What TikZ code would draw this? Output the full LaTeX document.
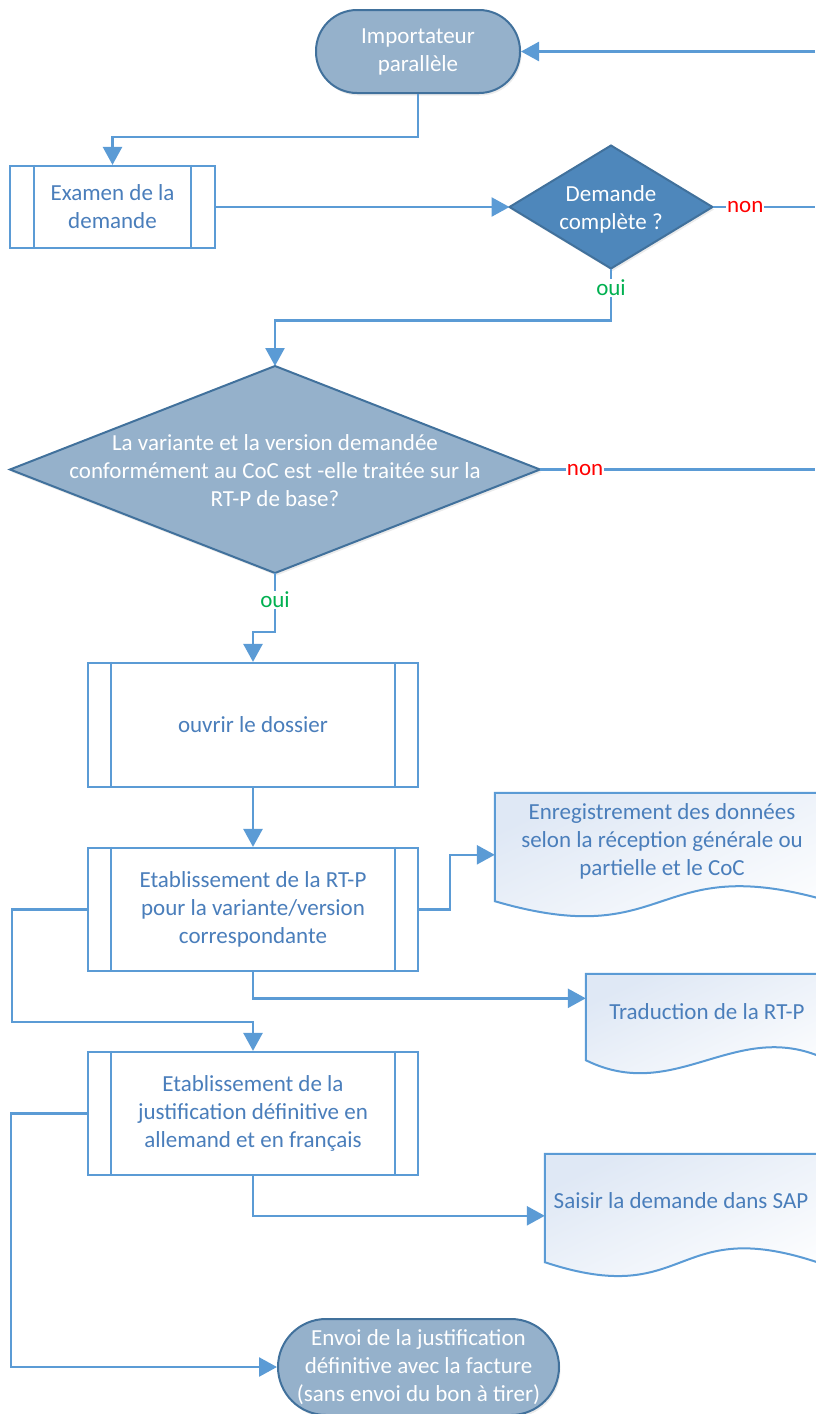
\documentclass[tikz,border=0pt]{standalone}
\usepackage{fontspec}
\setmainfont{Carlito}
\usetikzlibrary{shapes.geometric,arrows.meta,calc,shadows}
\definecolor{lineblue}{HTML}{5B9BD5}
\definecolor{termborder}{HTML}{41719C}
\definecolor{termfill}{HTML}{95B1CB}
\definecolor{decfill}{HTML}{4E87BB}
\definecolor{boxtext}{HTML}{4A7EBB}
\definecolor{docfill}{HTML}{DFE8F5}
\definecolor{nonred}{HTML}{FF0000}
\definecolor{ouigreen}{HTML}{00B050}
\pgfdeclarelayer{background}
\pgfsetlayers{background,main}
\newcommand\sublines[2]{%
  \draw[boxline] ($(#1.north west)+(#2,0)$) -- ($(#1.south west)+(#2,0)$)
                 ($(#1.north east)+(-#2,0)$) -- ($(#1.south east)+(-#2,0)$);}
\newcommand\zerotext[2]{\makebox[0pt]{\raisebox{#1}[0pt][0pt]{\begin{tabular}{@{}c@{}}#2\end{tabular}}}}
\begin{document}
\begin{tikzpicture}[x=1pt,y=-1pt,
  font=\fontsize{23}{28}\selectfont,
  conn/.style={draw=lineblue, line width=2.6pt},
  arr/.style={conn, -{Triangle[length=18pt,width=19pt]}},
  softshadow/.style={drop shadow={opacity=0.16, shadow xshift=1.5pt, shadow yshift=-2.5pt}},
  term/.style={rectangle, rounded corners=#1, draw=termborder, line width=2pt, fill=termfill,
    text=white, align=center, inner sep=0pt, softshadow},
  procbox/.style={rectangle, draw=lineblue, line width=2.2pt, fill=white, text=boxtext,
    align=center, inner sep=0pt},
  boxline/.style={draw=lineblue, line width=2.2pt},
  decision/.style={diamond, draw=termborder, line width=2pt, inner sep=0pt, outer sep=0pt, text=white, softshadow},
  docbox/.style={rectangle, text=boxtext, align=center, inner sep=0pt},
  docshape/.style={draw=lineblue, line width=2pt, top color=docfill, bottom color=white, shading angle=25},
  yes/.style={text=ouigreen, fill=white, inner sep=1pt},
  no/.style={text=nonred, fill=white, inner sep=1pt}]
\useasboundingbox (0,0) rectangle (815,1414);
\clip (0,0) rectangle (815,1414);

% nodes
\node[term=41pt, minimum width=204pt, minimum height=83pt] (t1) at (418,51.5) {Importateur\\parallèle};
\node[procbox, minimum width=205pt, minimum height=82pt] (b1) at (112.5,207) {Examen de la\\demande};
\sublines{b1}{25}
\node[decision, fill=decfill, shape aspect=1.65, minimum width=203pt, minimum height=123pt] (d1) at (611,207)
  {\zerotext{-9.5pt}{Demande\\complète ?}};
\node[decision, fill=termfill, shape aspect=2.56, minimum width=530pt, minimum height=207pt] (d2) at (275,469.5)
  {\zerotext{-10pt}{La variante et la version demandée\\conformément au CoC est -elle traitée sur la\\RT-P de base?}};
\node[procbox, minimum width=330pt, minimum height=124pt] (b2) at (253,725) {ouvrir le dossier};
\sublines{b2}{24}
\node[procbox, minimum width=330pt, minimum height=123pt] (b3) at (253,909.5)
  {Etablissement de la RT-P\\pour la variante/version\\correspondante};
\sublines{b3}{24}
\node[procbox, minimum width=330pt, minimum height=123pt] (b4) at (253,1113.5)
  {Etablissement de la\\justification définitive en\\allemand et en français};
\sublines{b4}{24}
\node[term=48pt, minimum width=281pt, minimum height=96pt] (t2) at (418.5,1367)
  {Envoi de la justification\\définitive avec la facture\\(sans envoi du bon à tirer)};

% documents
\node[docbox, minimum width=334pt, minimum height=96pt] (docA) at (662,841)
  {Enregistrement des données\\selon la réception générale ou\\partielle et le CoC};
\node[docbox, minimum width=242pt, minimum height=76pt] (docB) at (707,1012) {Traduction de la RT-P};
\node[docbox, minimum width=272pt, minimum height=94pt] (docC) at (681,1201) {Saisir la demande dans SAP};
\begin{pgfonlayer}{background}
\path[docshape] (docA.north west) -- ($(docA.south west)+(0,12)$)
  .. controls ($(docA.south west)+(178,64)$) and ($(docA.south east)+(-178,-40)$) .. ($(docA.south east)+(0,12)$)
  -- (docA.north east) -- cycle;
\path[docshape] (docB.north west) -- ($(docB.south west)+(0,10)$)
  .. controls ($(docB.south west)+(91,55)$) and ($(docB.south east)+(-91,-35)$) .. ($(docB.south east)+(0,10)$)
  -- (docB.north east) -- cycle;
\path[docshape] (docC.north west) -- ($(docC.south west)+(0,14)$)
  .. controls ($(docC.south west)+(145,62)$) and ($(docC.south east)+(-145,-34)$) .. ($(docC.south east)+(0,14)$)
  -- (docC.north east) -- cycle;
\end{pgfonlayer}

% free ends and joints
\coordinate (inR) at (815,51.5);
\coordinate (outR1) at (815,207);
\coordinate (outR2) at (815,469.5);
\coordinate (j1) at (12,1022);
\coordinate (j2) at (11,1367);

% connectors
\draw[arr] (inR) -- (t1.east);
\draw[arr] (t1.south) -- ++(0,43) -| (b1.north);
\draw[arr] (b1.east) -- (d1.west);
\draw[conn] (d1.east) -- node[no, pos=0.32] {non} (outR1);
\draw[arr] (d1.south) -- node[yes, pos=0.37] {oui} ++(0,52) -| (d2.north);
\draw[conn] (d2.east) -- node[no, pos=0.164] {non} (outR2);
\draw[arr] (d2.south) -- node[yes, pos=0.46] {oui} ++(0,59) -| (b2.north);
\draw[arr] (b2.south) -- (b3.north);
\draw[arr] (b3.east) -- ++(31,0) |- ($(docA.north west)+(0,62)$);
\draw[arr] (b3.south) |- ($(docB.north west)+(0,24.5)$);
\draw[arr] (b3.west) -| (j1) -| (b4.north);
\draw[arr] (b4.west) -| (j2) -- (t2.west);
\draw[arr] (b4.south) |- ($(docC.north west)+(0,62)$);
\end{tikzpicture}
\end{document}
